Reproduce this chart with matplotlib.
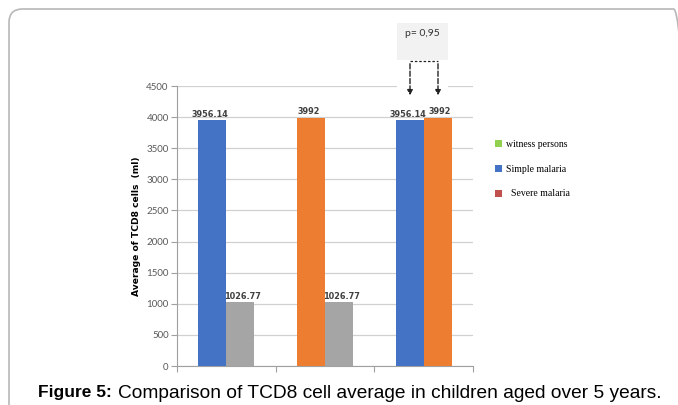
import numpy as np
import matplotlib.pyplot as plt
from matplotlib.patches import Patch, FancyBboxPatch, Rectangle, FancyArrowPatch

# values
groups = [0, 1, 2]
left_vals = [3956.14, 3992, 3956.14]
right_vals = [1026.77, 1026.77, 3992]
left_labels = ['3956.14', '3992', '3956.14']
right_labels = ['1026.77', '1026.77', '3992']
left_colors = ['#4472c4', '#ed7d31', '#4472c4']
right_colors = ['#a5a5a5', '#a5a5a5', '#ed7d31']
yticks = [0, 500, 1000, 1500, 2000, 2500, 3000, 3500, 4000, 4500]
legend_names = ['witness persons', 'Simple malaria', '  Severe malaria']
legend_colors = ['#92d050', '#4472c4', '#c0504d']
p_text = 'p= 0,95'

W, H = 678, 405
fig = plt.figure(figsize=(W / 100, H / 100), dpi=100)

# outer frame
frame = FancyBboxPatch((9 / W, -0.2), 1.0, 1 - 9 / H + 0.2,
                       boxstyle='round,pad=0,rounding_size=0.02',
                       transform=fig.transFigure, fill=False,
                       edgecolor='#b8b8b8', linewidth=1.2, mutation_aspect=W / H)
fig.patches.append(frame)

ax = fig.add_axes([177 / W, 1 - 366 / H, 296 / W, 280 / H])
x = np.array(groups)
bw = 0.285
ax.bar(x - bw / 2, left_vals, bw, color=left_colors, zorder=3)
ax.bar(x + bw / 2, right_vals, bw, color=right_colors, zorder=3)

lab_font = dict(fontsize=5.9, fontweight='bold', color='#404040',
                family='DejaVu Sans', zorder=4)
for xi, v, s in zip(x - bw / 2, left_vals, left_labels):
    ax.text(xi - 0.02, v + 20, s, ha='center', va='bottom', **lab_font)
for xi, v, s in zip(x + bw / 2, right_vals, right_labels):
    ax.text(xi + 0.02, v + 20, s, ha='center', va='bottom', **lab_font)

ax.set_xlim(-0.5, 2.5)
ax.set_ylim(0, 4500)
ax.set_yticks(yticks)
ax.set_yticklabels([str(t) for t in yticks], fontsize=7, color='#595959',
                   family='Lato')
ax.set_xticks([-0.5, 0.5, 1.5, 2.5])
ax.set_xticklabels([])
ax.tick_params(axis='y', length=4, color='#a0a0a0', pad=2)
ax.tick_params(axis='x', length=4, color='#a0a0a0')
ax.grid(axis='y', color='#d0d0d0', linewidth=0.9, zorder=0)
for side in ['top', 'right']:
    ax.spines[side].set_visible(False)
ax.spines['left'].set_color('#a0a0a0')
ax.spines['bottom'].set_color('#a0a0a0')
ax.set_ylabel('Average of TCD8 cells  (ml)', fontsize=6.6, fontweight='bold',
              family='DejaVu Sans', labelpad=4)

# p-value box and dashed arrows
fig.patches.append(Rectangle((397 / W, 1 - 100 / H), 51 / W, 40 / H,
                             transform=fig.transFigure, facecolor='white',
                             edgecolor='none', zorder=5))
fig.patches.append(Rectangle((397 / W, 1 - 60 / H), 51 / W, 37 / H,
                             transform=fig.transFigure, facecolor='#f2f2f2',
                             edgecolor='none', zorder=6))
fig.text(422.5 / W, 1 - 34 / H, p_text, ha='center', va='center', fontsize=7.5,
         color='#333333', family='Lato', zorder=7)
xa, xb = 410 / W, 438 / W
ytop, ybot = 1 - 61 / H, 1 - 98 / H
fig.lines.append(plt.Line2D([xa, xb], [ytop, ytop], transform=fig.transFigure,
                            color='#222222', linestyle='--', linewidth=0.9,
                            dashes=(2, 1.5), zorder=7))
for xx in (xa, xb):
    fig.patches.append(FancyArrowPatch(
        (xx, ytop), (xx, ybot), transform=fig.transFigure,
        arrowstyle='-|>,head_length=3,head_width=1.6', color='#222222',
        linestyle='--', linewidth=1.0, mutation_scale=1, zorder=7))

# legend (colours as in the original figure)
handles = [Patch(facecolor=c, edgecolor='none') for c in legend_colors]
fig.legend(handles, legend_names, loc='upper left',
           bbox_to_anchor=(495 / W, 1 - 140 / H), frameon=False,
           prop={'family': 'Liberation Serif', 'size': 7},
           handlelength=0.75, handleheight=0.75, handletextpad=0.35,
           labelspacing=1.62, borderpad=0, borderaxespad=0)

# caption
fig.text(38 / W, 1 - 393 / H, 'Figure 5:', fontsize=12.5, fontweight='bold',
         family='Liberation Sans', va='center', ha='left')
fig.text(118 / W, 1 - 393 / H,
         'Comparison of TCD8 cell average in children aged over 5 years.',
         fontsize=13.75, family='Liberation Sans', va='center', ha='left')

fig.savefig('out.png', dpi=100)
